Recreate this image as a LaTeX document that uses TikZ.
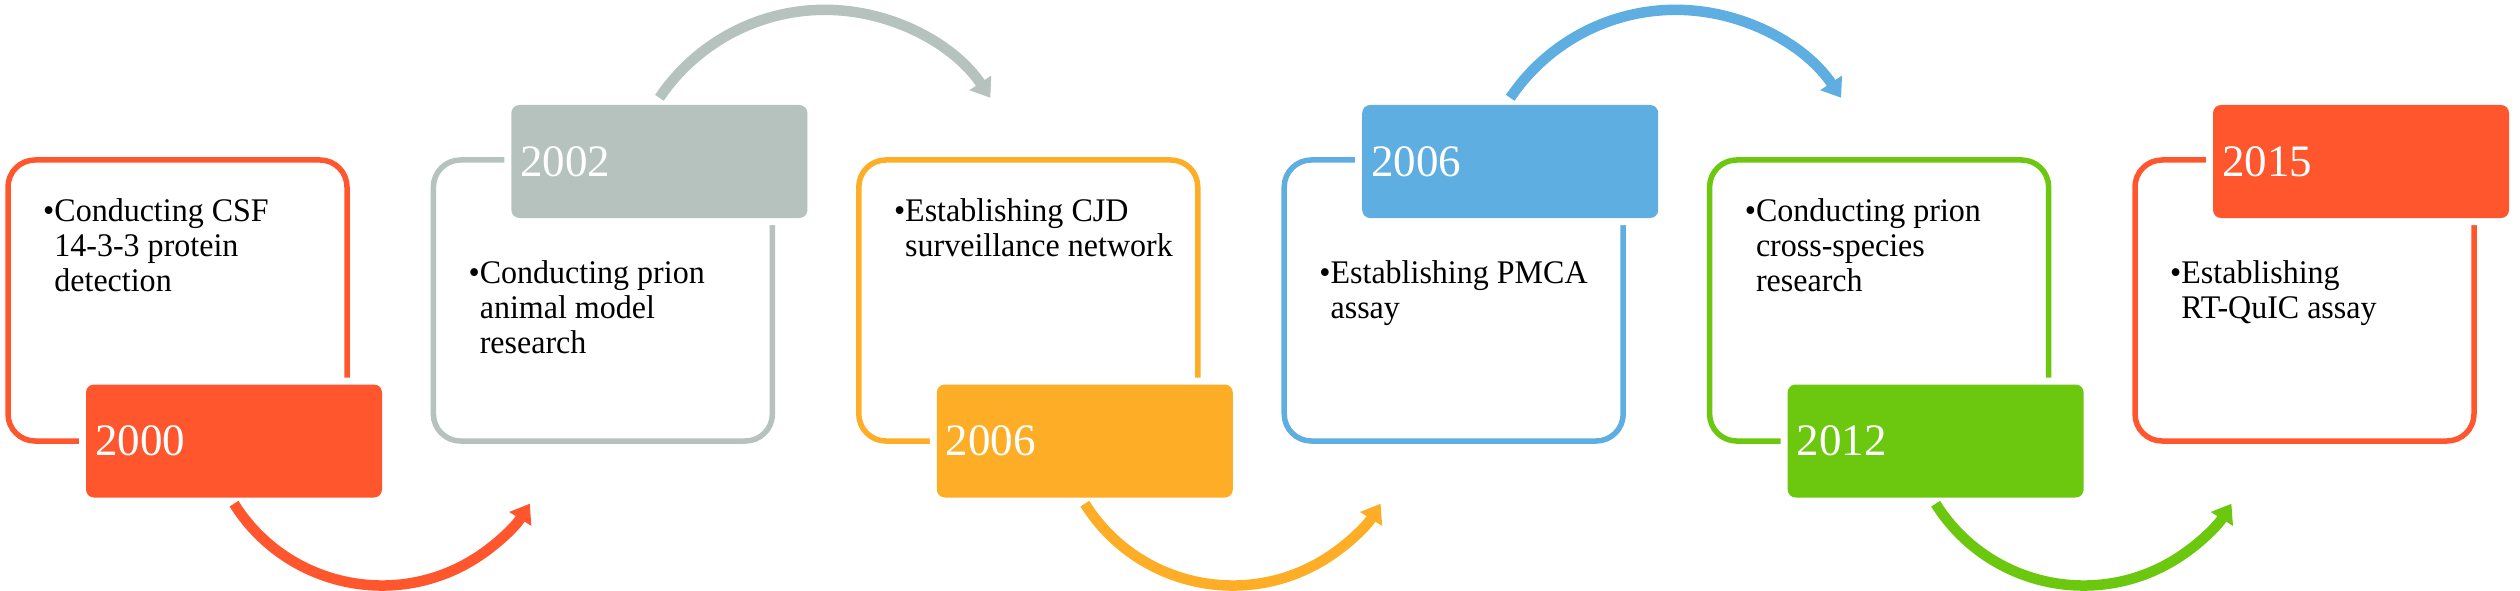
\documentclass[tikz,border=0pt]{standalone}
\usepackage{fontspec}
\setmainfont{Liberation Serif}
\usetikzlibrary{arrows.meta}
\definecolor{cRed}{RGB}{255,86,45}
\definecolor{cGray}{RGB}{181,194,190}
\definecolor{cOrange}{RGB}{254,173,38}
\definecolor{cBlue}{RGB}{94,174,226}
\definecolor{cGreen}{RGB}{108,200,14}
\newcommand{\bodylines}[1]{\scalebox{0.97}[1]{\begin{tabular}[t]{@{}l@{}l@{}}#1\end{tabular}}}
\begin{document}
\begin{tikzpicture}[x=1pt,y=-1pt,
  outlinebox/.style={draw=#1, line width=5.5pt, rounded corners=27pt, minimum width=339pt, minimum height=281pt, inner sep=0pt},
  yearbox/.style={fill=#1, rounded corners=8pt, minimum width=296pt, minimum height=113pt, inner xsep=9pt, inner ysep=0pt, text width=278pt, align=left, text=white, font=\fontsize{45}{50}\selectfont, preaction={draw=white, line width=14pt}},
  bodytext/.style={anchor=base west, inner sep=0pt, font=\fontsize{33}{35}\selectfont},
  flowarc/.style={draw=#1, line width=10.5pt, -{Triangle[width=25pt,length=18pt]}}
]
\useasboundingbox (0,0) rectangle (2520,591);
% outlines
\node[outlinebox=cRed]    (o1) at (177.5,300.5)  {};
\node[outlinebox=cGray]   (o2) at (602.9,300.5)  {};
\node[outlinebox=cOrange] (o3) at (1028.3,300.5) {};
\node[outlinebox=cBlue]   (o4) at (1453.7,300.5) {};
\node[outlinebox=cGreen]  (o5) at (1879.1,300.5) {};
\node[outlinebox=cRed]    (o6) at (2304.5,300.5) {};
% year boxes
\node[yearbox=cRed]    (y1) at (234,441)    {2000};
\node[yearbox=cGray]   (y2) at (659.4,161.5) {2002};
\node[yearbox=cOrange] (y3) at (1084.8,441)  {2006};
\node[yearbox=cBlue]   (y4) at (1510.2,161.5) {2006};
\node[yearbox=cGreen]  (y5) at (1935.6,441)  {2012};
\node[yearbox=cRed]    (y6) at (2361,161.5)  {2015};
% texts
\node[bodytext] (t1) at (43,222) {\bodylines{\textbullet&Conducting CSF\\&14-3-3 protein\\&detection}};
\node[bodytext] (t2) at (468.4,283) {\bodylines{\textbullet&Conducting prion\\&animal model\\&research}};
\node[bodytext] (t3) at (893.8,222) {\bodylines{\textbullet&Establishing CJD\\&surveillance network}};
\node[bodytext] (t4) at (1319.2,283) {\bodylines{\textbullet&Establishing PMCA\\&assay}};
\node[bodytext] (t5) at (1744.6,222) {\bodylines{\textbullet&Conducting prion\\&cross-species\\&research}};
\node[bodytext] (t6) at (2170,283) {\bodylines{\textbullet&Establishing\\&RT-QuIC assay}};
% arrows
\draw[flowarc=cRed]    ([yshift=-6pt]y1.south) arc[start angle=147.9, end angle=32.1, radius=174.6];
\draw[flowarc=cGray]   ([yshift=7pt]y2.north)  arc[start angle=214, end angle=326, radius=199.6];
\draw[flowarc=cOrange] ([yshift=-6pt]y3.south) arc[start angle=147.9, end angle=32.1, radius=174.6];
\draw[flowarc=cBlue]   ([yshift=7pt]y4.north)  arc[start angle=214, end angle=326, radius=199.6];
\draw[flowarc=cGreen]  ([yshift=-6pt]y5.south) arc[start angle=147.9, end angle=32.1, radius=174.6];
\end{tikzpicture}
\end{document}
